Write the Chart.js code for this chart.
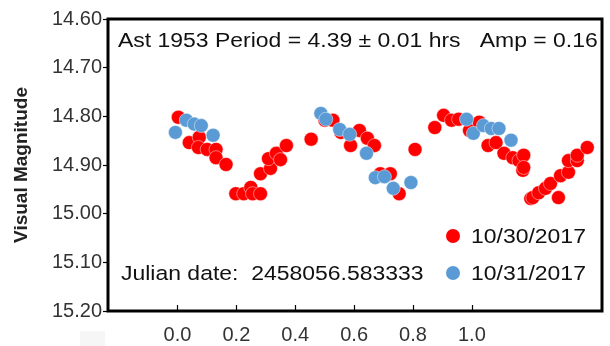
<!DOCTYPE html>
<html>
<head>
<meta charset="utf-8">
<script src="https://cdn.jsdelivr.net/npm/chart.js@4"></script>
<style>
  html, body { margin: 0; padding: 0; background: #fff; }
  #wrap { width: 610px; height: 346px; }
</style>
</head>
<body>
<div id="wrap"><canvas id="lightcurve" width="610" height="346"></canvas></div>
<script>
// ========== DATA ==========

// 10/30/2017 session (phase, visual magnitude)
const redPhase = [0.003, 0.040, 0.074, 0.071, 0.101, 0.131, 0.131, 0.165, 0.198, 0.225,
  0.249, 0.255, 0.282, 0.282, 0.316, 0.309, 0.336, 0.350, 0.370, 0.454,
  0.501, 0.528, 0.555, 0.618, 0.588, 0.645, 0.669, 0.689, 0.723, 0.753,
  0.807, 0.874, 0.904, 0.931, 0.955, 0.992, 1.025, 1.055, 1.082, 1.109,
  1.139, 1.160, 1.173, 1.176, 1.176, 1.200, 1.207, 1.227, 1.250, 1.267,
  1.294, 1.301, 1.328, 1.328, 1.358, 1.358, 1.392];
const redMag = [14.802, 14.854, 14.843, 14.864, 14.868, 14.868, 14.885, 14.899, 14.959, 14.959,
  14.946, 14.959, 14.959, 14.918, 14.907, 14.887, 14.876, 14.889, 14.860, 14.847,
  14.808, 14.808, 14.833, 14.829, 14.860, 14.845, 14.860, 14.918, 14.918, 14.959,
  14.868, 14.823, 14.798, 14.808, 14.806, 14.829, 14.812, 14.860, 14.854, 14.876,
  14.885, 14.891, 14.911, 14.880, 14.905, 14.969, 14.967, 14.957, 14.948, 14.938,
  14.967, 14.922, 14.915, 14.891, 14.891, 14.880, 14.864];

// 10/31/2017 session
const bluePhase = [-0.007, 0.030, 0.057, 0.081, 0.121, 0.487, 0.504, 0.551, 0.585, 0.642,
  0.672, 0.703, 0.733, 0.793, 0.982, 1.005, 1.039, 1.066, 1.092, 1.133];
const blueMag = [14.833, 14.808, 14.816, 14.819, 14.839, 14.794, 14.806, 14.827, 14.837, 14.876,
  14.926, 14.924, 14.948, 14.936, 14.806, 14.835, 14.819, 14.825, 14.825, 14.849];

const phaseTicks = [0.0, 0.2, 0.4, 0.6, 0.8, 1.0];
const magTicks = [14.6, 14.7, 14.8, 14.9, 15.0, 15.1, 15.2];

const seriesLabels = ['10/30/2017', '10/31/2017'];
const titleText = 'Ast 1953 Period = 4.39 \u00B1 0.01 hrs   Amp = 0.16';
const julianText = 'Julian date:  2458056.583333';

// ========== HELPERS ==========

const FONT = '"Liberation Sans", Arial, sans-serif';
const RED = '#ff0000';
const BLUE = '#5b9bd5';
const STRETCH = 1.12; // glyphs in this chart are a little wide

function toPoints(xs, ys) {
  return xs.map((x, i) => ({ x: x, y: ys[i] }));
}

function wideText(ctx, text, x, y) {
  ctx.save();
  ctx.translate(x, y);
  ctx.scale(STRETCH, 1);
  ctx.fillText(text, 0, 0);
  ctx.restore();
}

// frame, inward x ticks and the text drawn inside the plot
const annotations = {
  id: 'annotations',
  beforeDraw(chart) {
    const ctx = chart.ctx;
    ctx.save();
    ctx.fillStyle = '#f6f6f6';
    ctx.fillRect(80, 331, 25, 15);
    ctx.restore();
  },
  afterDraw(chart) {
    const ctx = chart.ctx;
    const a = chart.chartArea;
    const xs = chart.scales.x;
    ctx.save();

    // inward ticks along the bottom edge
    ctx.strokeStyle = '#000';
    ctx.lineWidth = 1.2;
    phaseTicks.forEach(v => {
      const px = Math.round(xs.getPixelForValue(v)) + 0.5;
      ctx.beginPath();
      ctx.moveTo(px, a.bottom);
      ctx.lineTo(px, a.bottom - 6);
      ctx.stroke();
    });

    // plot frame
    ctx.lineWidth = 3;
    ctx.strokeRect(a.left, a.top, a.right - a.left, a.bottom - a.top);

    // title line
    ctx.fillStyle = '#111';
    ctx.font = '20.5px ' + FONT;
    ctx.textBaseline = 'alphabetic';
    ctx.textAlign = 'left';
    wideText(ctx, titleText, 118, 47);

    // julian date
    wideText(ctx, julianText, 121, 280);

    // legend
    const rows = [
      { label: seriesLabels[0], color: RED, y: 236 },
      { label: seriesLabels[1], color: BLUE, y: 273 }
    ];
    rows.forEach(r => {
      ctx.fillStyle = r.color;
      ctx.beginPath();
      ctx.arc(453, r.y, 7, 0, Math.PI * 2);
      ctx.fill();
      ctx.fillStyle = '#111';
      wideText(ctx, r.label, 471, r.y + 7);
    });

    ctx.restore();
  }
};

// ========== CHART ==========

new Chart(document.getElementById('lightcurve'), {
  type: 'scatter',
  data: {
    datasets: [{
      label: seriesLabels[1],
      data: toPoints(bluePhase, blueMag),
      backgroundColor: BLUE,
      borderColor: 'rgba(255,255,255,0.45)',
      borderWidth: 1,
      pointRadius: 7,
      order: 0
    }, {
      label: seriesLabels[0],
      data: toPoints(redPhase, redMag),
      backgroundColor: RED,
      borderColor: 'rgba(255,255,255,0.45)',
      borderWidth: 1,
      pointRadius: 7,
      order: 1
    }]
  },
  options: {
    responsive: false,
    animation: false,
    events: [],
    layout: { padding: { top: 19, right: 3, left: 0, bottom: 0 } },
    plugins: {
      legend: { display: false },
      tooltip: { enabled: false }
    },
    scales: {
      x: {
        type: 'linear',
        min: -0.236,
        max: 1.442,
        afterBuildTicks: scale => { scale.ticks = phaseTicks.map(v => ({ value: v })); },
        afterFit: scale => { scale.height = 35; },
        grid: { display: false, drawTicks: false },
        border: { display: false },
        ticks: {
          padding: 12,
          color: '#333',
          font: { family: FONT, size: 20 },
          callback: v => v.toFixed(1)
        }
      },
      y: {
        type: 'linear',
        reverse: true,
        min: 14.6,
        max: 15.2,
        afterBuildTicks: scale => { scale.ticks = magTicks.map(v => ({ value: v })); },
        afterFit: scale => { scale.width = 108; },
        grid: {
          drawOnChartArea: false,
          drawTicks: true,
          tickLength: 5,
          tickColor: '#000',
          tickWidth: 1.2
        },
        border: { display: false },
        ticks: {
          padding: 1,
          color: '#333',
          font: { family: FONT, size: 20 },
          callback: v => v.toFixed(2)
        },
        title: {
          display: true,
          text: 'Visual Magnitude',
          color: '#222',
          font: { family: FONT, size: 19, weight: 'bold' },
          padding: { top: 10, bottom: 0 }
        }
      }
    }
  },
  plugins: [annotations]
});
</script>
</body>
</html>
